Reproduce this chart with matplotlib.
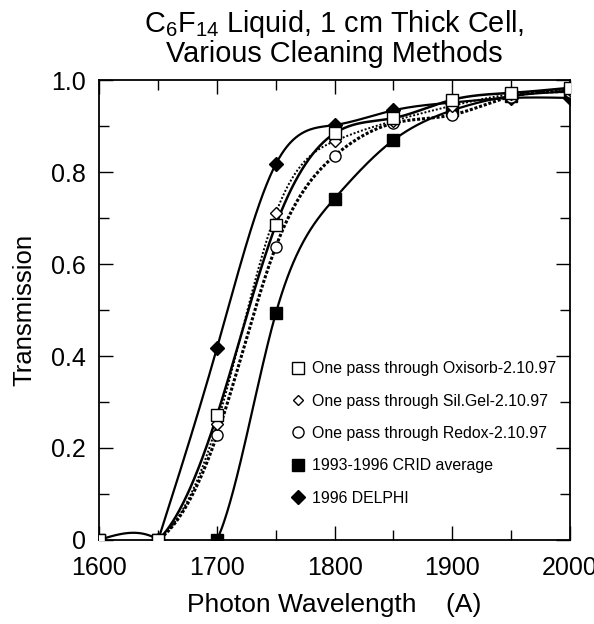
import numpy as np
import matplotlib
matplotlib.use("Agg")
import matplotlib.pyplot as plt
from matplotlib.lines import Line2D
from matplotlib.ticker import MultipleLocator, FuncFormatter

plt.rcParams["font.family"] = ["Liberation Sans", "DejaVu Sans"]
plt.rcParams["mathtext.fontset"] = "custom"
plt.rcParams["mathtext.rm"] = "Liberation Sans"
plt.rcParams["mathtext.it"] = "Liberation Sans"

# wavelength grid (Angstrom)
wl = [1600, 1650, 1700, 1750, 1800, 1850, 1900, 1950, 2000]

# transmission per cleaning method
oxisorb = [0, 0, 0.271, 0.685, 0.885, 0.918, 0.958, 0.973, 0.984]
silgel = [0, 0, 0.252, 0.711, 0.868, 0.912, 0.945, 0.970, 0.980]
redox = [0, 0, 0.228, 0.638, 0.836, 0.907, 0.925, 0.965, 0.976]
crid = [0, 0, 0, 0.493, 0.743, 0.870, 0.935, 0.966, 0.976]
delphi_wl = [1650, 1700, 1750, 1800, 1850, 1900, 1950, 2000]
delphi = [0, 0.418, 0.818, 0.903, 0.935, 0.952, 0.962, 0.962]

labels = ["One pass through Oxisorb-2.10.97",
          "One pass through Sil.Gel-2.10.97",
          "One pass through Redox-2.10.97",
          "1993-1996 CRID average",
          "1996 DELPHI"]


def spline(x, y, xs):
    # natural cubic spline through the measured points
    x = np.asarray(x, float)
    y = np.asarray(y, float)
    n = len(x)
    h = np.diff(x)
    A = np.zeros((n, n))
    b = np.zeros(n)
    A[0, 0] = A[-1, -1] = 1
    for i in range(1, n - 1):
        A[i, i - 1] = h[i - 1]
        A[i, i] = 2 * (h[i - 1] + h[i])
        A[i, i + 1] = h[i]
        b[i] = 6 * ((y[i + 1] - y[i]) / h[i] - (y[i] - y[i - 1]) / h[i - 1])
    M = np.linalg.solve(A, b)
    k = np.clip(np.searchsorted(x, xs) - 1, 0, n - 2)
    x0, x1 = x[k], x[k + 1]
    hk = x1 - x0
    a = (x1 - xs) / hk
    c = (xs - x0) / hk
    return a * y[k] + c * y[k + 1] + ((a**3 - a) * M[k] + (c**3 - c) * M[k + 1]) * hk**2 / 6


fig = plt.figure(figsize=(5.94, 6.24), dpi=100)
ax = fig.add_axes([0.1675, 0.135, 0.7915, 0.736])

# CRID and DELPHI first so the open markers sit on top
xs = np.linspace(1600, 2000, 801)
ax.plot(xs, spline(wl, crid, xs), color="black", lw=1.6, zorder=2)
ax.plot(wl, crid, "s", color="black", ms=8, zorder=3)

xd = np.linspace(1650, 2000, 701)
ax.plot(xd, spline(delphi_wl, delphi, xd), color="black", lw=1.6, zorder=2)
ax.plot(delphi_wl, delphi, "D", color="black", ms=7, zorder=3)

ax.plot(xs, spline(wl, redox, xs), color="black", lw=2.2, ls=(0, (1, 0.6)), zorder=2)
ax.plot(wl, redox, "o", mfc="white", mec="black", mew=1.0, ms=8, zorder=4)

ax.plot(xs, spline(wl, silgel, xs), color="black", lw=1.4, ls=(0, (1, 1)), zorder=2)
ax.plot(wl, silgel, "D", mfc="white", mec="black", mew=1.0, ms=6, zorder=4)

ax.plot(xs, spline(wl, oxisorb, xs), color="black", lw=1.8, zorder=2)
ax.plot(wl, oxisorb, "s", mfc="white", mec="black", mew=1.0, ms=8, zorder=5)

ax.set_xlim(1600, 2000)
ax.set_ylim(0, 1.0)
ax.xaxis.set_major_locator(MultipleLocator(100))
ax.xaxis.set_minor_locator(MultipleLocator(50))
ax.yaxis.set_major_locator(MultipleLocator(0.2))
ax.yaxis.set_minor_locator(MultipleLocator(0.1))
ax.yaxis.set_major_formatter(FuncFormatter(lambda v, p: "0" if abs(v) < 1e-9 else f"{v:.1f}"))
ax.tick_params(which="both", direction="in", top=True, right=True, width=1.0)
ax.tick_params(which="major", length=10, labelsize=18)
ax.tick_params(axis="x", which="major", pad=12)
ax.tick_params(axis="y", which="major", pad=10)
ax.tick_params(which="minor", length=7)
for s in ax.spines.values():
    s.set_linewidth(1.3)

ax.set_xlabel("Photon Wavelength    (A)", fontsize=19, labelpad=9)
ax.set_ylabel("Transmission", fontsize=18.5, labelpad=10)
ax.set_title("C$_6$F$_{14}$ Liquid, 1 cm Thick Cell,\nVarious Cleaning Methods",
             fontsize=20.8, pad=13, linespacing=1.02)

handles = [
    Line2D([], [], ls="none", marker="s", mfc="white", mec="black", ms=8),
    Line2D([], [], ls="none", marker="D", mfc="white", mec="black", ms=5.5),
    Line2D([], [], ls="none", marker="o", mfc="white", mec="black", ms=8),
    Line2D([], [], ls="none", marker="s", color="black", ms=8),
    Line2D([], [], ls="none", marker="D", color="black", ms=7),
]
ax.legend(handles, labels, loc="lower left", bbox_to_anchor=(0.395, 0.06),
          frameon=False, fontsize=11.4, handlelength=0.8, handletextpad=0.5,
          labelspacing=1.1, borderaxespad=0)

fig.savefig("out.png", dpi=100)
